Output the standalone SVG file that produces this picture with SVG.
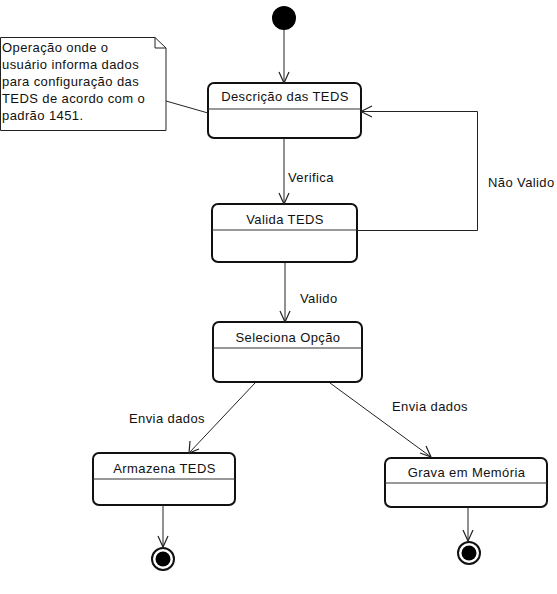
<svg xmlns="http://www.w3.org/2000/svg" width="557" height="594" viewBox="0 0 557 594">
<style>
text{font-family:"Liberation Sans",Arial,sans-serif;font-size:13px;letter-spacing:0.4px;fill:#111}
.st{fill:#fff;stroke:#111;stroke-width:2}
.dv{stroke:#333;stroke-width:1}
.c{fill:none;stroke:#222;stroke-width:1}
.ah{fill:none;stroke:#222;stroke-width:1.2}
.lbl{text-anchor:middle}
</style>
<rect width="557" height="594" fill="#fff"/>
<g id="initial"><circle cx="284" cy="18" r="12" fill="#000"/></g>
<g id="note">
<path d="M0.5 37.5 H155 L166 48 V130.5 H0.5 Z" fill="#fff" stroke="#222" stroke-width="1"/>
<path d="M155 37.5 V48 H166" fill="none" stroke="#222" stroke-width="1"/>
<text x="2" y="52">Operação onde o</text>
<text x="2" y="69">usuário informa dados</text>
<text x="2" y="86">para configuração das</text>
<text x="2" y="103">TEDS de acordo com o</text>
<text x="2" y="120">padrão 1451.</text>
</g>
<g id="descricao">
<rect class="st" x="208" y="83" width="153" height="55" rx="6"/>
<line class="dv" x1="208" y1="109" x2="361" y2="109"/>
<text class="lbl" x="285" y="101">Descrição das TEDS</text>
</g>
<g id="valida">
<rect class="st" x="212" y="204" width="145" height="58" rx="6"/>
<line class="dv" x1="212" y1="230" x2="357" y2="230"/>
<text class="lbl" x="285" y="224">Valida TEDS</text>
</g>
<g id="seleciona">
<rect class="st" x="213" y="322" width="149" height="60" rx="6"/>
<line class="dv" x1="213" y1="348" x2="362" y2="348"/>
<text class="lbl" x="288" y="342">Seleciona Opção</text>
</g>
<g id="armazena">
<rect class="st" x="93" y="453" width="142" height="52" rx="6"/>
<line class="dv" x1="93" y1="479" x2="235" y2="479"/>
<text class="lbl" x="164.5" y="473">Armazena TEDS</text>
</g>
<g id="grava">
<rect class="st" x="385" y="458" width="162" height="49" rx="6"/>
<line class="dv" x1="385" y1="483" x2="547" y2="483"/>
<text class="lbl" x="466.5" y="477">Grava em Memória</text>
</g>
<g id="final1"><circle cx="163" cy="559" r="11" fill="#fff" stroke="#111" stroke-width="2"/><circle cx="163" cy="559" r="7.5" fill="#000"/></g>
<g id="final2"><circle cx="469" cy="553" r="11" fill="#fff" stroke="#111" stroke-width="2"/><circle cx="469" cy="553" r="7.5" fill="#000"/></g>
<g id="connectors">
<line class="c" x1="284" y1="30" x2="284" y2="83"/>
<path class="ah" d="M279 72 L284 83 L289 72"/>
<line class="c" x1="166" y1="101" x2="208" y2="113"/>
<line class="c" x1="284" y1="138" x2="284" y2="204"/>
<path class="ah" d="M279 193 L284 204 L289 193"/>
<text x="288" y="182">Verifica</text>
<path class="c" d="M357 230.5 H477.5 V111.5 H361"/>
<path class="ah" d="M372 106 L361 111.5 L372 117"/>
<text x="488" y="187">Não Valido</text>
<line class="c" x1="285" y1="262" x2="285" y2="322"/>
<path class="ah" d="M280 311 L285 322 L290 311"/>
<text x="300" y="303">Valido</text>
<line class="c" x1="255" y1="383" x2="189" y2="453"/>
<path class="ah" d="M190 441 L189 453 L199 449"/>
<text x="129" y="423">Envia dados</text>
<line class="c" x1="330" y1="383" x2="431" y2="457"/>
<path class="ah" d="M420 453 L431 457 L426 446"/>
<text x="392" y="411">Envia dados</text>
<line class="c" x1="163" y1="505" x2="163" y2="547"/>
<path class="ah" d="M158 536 L163 547 L168 536"/>
<line class="c" x1="468" y1="507" x2="468" y2="541"/>
<path class="ah" d="M463 530 L468 541 L473 530"/>
</g>
</svg>
